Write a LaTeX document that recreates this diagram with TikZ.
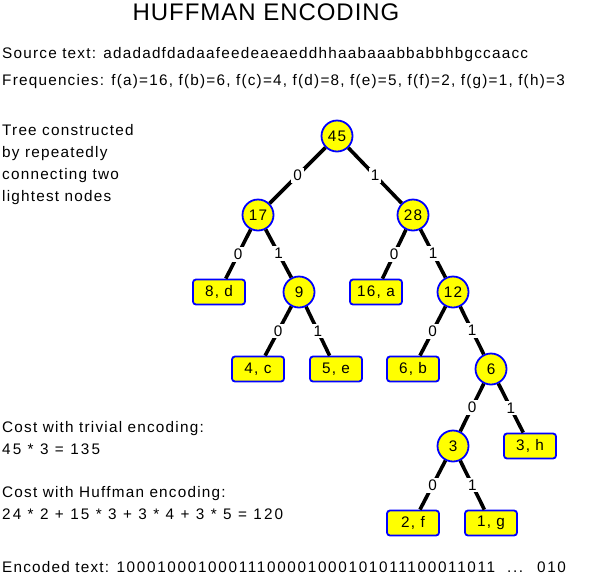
\documentclass[tikz,border=0pt]{standalone}
\usepackage{fontspec}
\setmainfont{Liberation Sans}[LetterSpace=8]
\newfontfamily\titlefont{Liberation Sans}[LetterSpace=4]
\newfontfamily\widefont{Liberation Sans}[LetterSpace=14]
\newfontfamily\bitfont{Liberation Sans}[LetterSpace=11]
\usetikzlibrary{positioning}
\definecolor{nodefill}{HTML}{FFFF00}
\definecolor{nodeline}{HTML}{0000FF}
\tikzset{
  inner/.style={circle, draw=nodeline, line width=1.8pt, fill=nodefill, minimum size=31pt, inner sep=0pt, font=\fontsize{15.3}{18}\selectfont},
  leaf/.style={rectangle, rounded corners=3pt, draw=nodeline, line width=1.8pt, fill=nodefill, minimum width=52pt, minimum height=25pt, inner sep=0pt, font=\fontsize{15.3}{18}\selectfont},
  edge/.style={line width=3.6pt, draw=black},
  bit/.style={fill=white, inner sep=2pt, font=\fontsize{15.3}{18}\selectfont},
  txt/.style={anchor=base west, align=left, inner sep=0pt, font=\fontsize{15.3}{21.7}\selectfont},
  title/.style={anchor=base, inner sep=0pt, font=\titlefont\fontsize{24}{30}\selectfont}
}
\begin{document}
\begin{tikzpicture}[x=1pt, y=-1pt]
\useasboundingbox (0,0) rectangle (593,576);
% texts
\node[title] (head) at (266,20) {HUFFMAN ENCODING};
\node[txt] (src) at (2,58) {Source text: adadadfdadaafeedeaeaeddhhaabaaabbabbhbgccaacc};
\node[txt] (freq) at (2,85) {Frequencies: f(a)=16, f(b)=6, f(c)=4, f(d)=8, f(e)=5, f(f)=2, f(g)=1, f(h)=3};
\node[txt] (note) at (2,201) {Tree constructed\\by repeatedly\\connecting two\\lightest nodes};
\node[txt] (triv) at (2,454) {Cost with trivial encoding:\\{\widefont 45 * 3 = 135}};
\node[txt] (huff) at (2,519) {Cost with Huffman encoding:\\{\widefont 24 * 2 + 15 * 3 + 3 * 4 + 3 * 5 = 120}};
\node[txt] (enc) at (2,572) {Encoded text: {\bitfont 10001000100011100001000101011100011011 \ ... \ 010}};
% tree
\node[inner] (n45) at (337,136) {45};
\node[inner] (n17) at (258,215) {17};
\node[inner] (n28) at (413,215) {28};
\node[leaf] (d) at (219,292) {8, d};
\node[inner] (n9) at (299,292) {9};
\node[leaf] (a) at (376,292) {16, a};
\node[inner] (n12) at (453,292) {12};
\node[leaf] (c) at (258,369) {4, c};
\node[inner] (n6) at (491,369) {6};
\node[leaf] (e) at (336,369) {5, e};
\node[leaf] (b) at (413,369) {6, b};
\node[inner] (n3) at (453,446) {3};
\node[leaf] (h) at (530,446) {3, h};
\node[leaf] (f) at (413,523) {2, f};
\node[leaf] (g) at (491,523) {1, g};
\foreach \p/\q/\z in {n45/n17/n28, n17/d/n9, n9/c/e, n28/a/n12, n12/b/n6, n6/n3/h, n3/f/g}{
  \draw[edge] (\p) -- node[bit] {0} (\q);
  \draw[edge] (\p) -- node[bit] {1} (\z);
}
\end{tikzpicture}
\end{document}
